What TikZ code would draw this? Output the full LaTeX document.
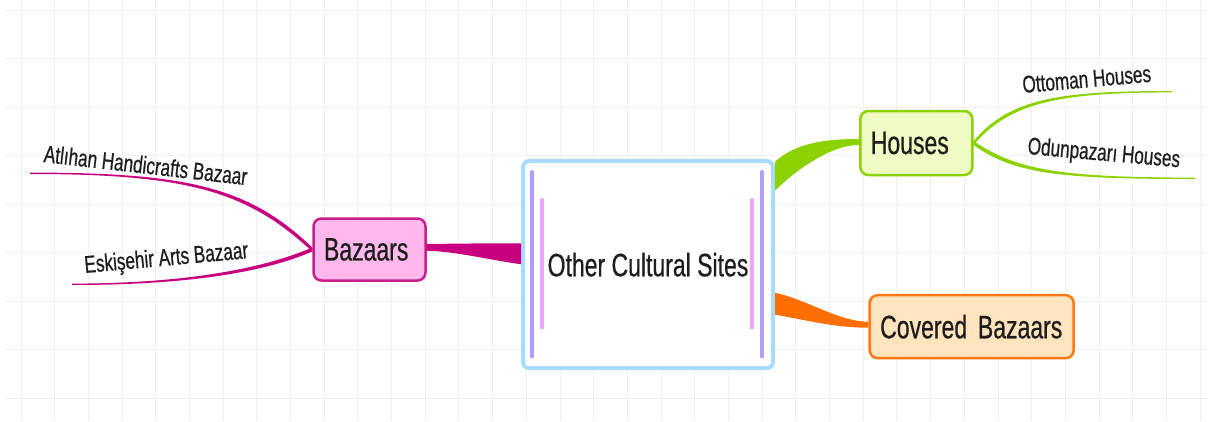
\documentclass[tikz,border=0pt]{standalone}
\usepackage{fontspec}
\setmainfont{Liberation Sans}
\newfontfamily\mapfont[FakeStretch=0.71,FakeBold=0.6]{Liberation Sans}
\usepackage{tikz}
\usetikzlibrary{shapes}
\usetikzlibrary{calc}
\definecolor{gridgray}{HTML}{F0F0F0}
\definecolor{textgray}{HTML}{1E1E1E}
\definecolor{centreblue}{HTML}{A8DCFF}
\definecolor{barpurple}{HTML}{B49CFF}
\definecolor{barpink}{HTML}{F0A4F8}
\definecolor{bazline}{HTML}{C8007F}
\definecolor{bazborder}{HTML}{C81E8C}
\definecolor{bazfill}{HTML}{FFB8EC}
\definecolor{houseline}{HTML}{8CD200}
\definecolor{housefill}{HTML}{F0FCC4}
\definecolor{covline}{HTML}{FF6E00}
\definecolor{covborder}{HTML}{FF7814}
\definecolor{covfill}{HTML}{FFE4BE}
\tikzstyle{gridline}=[draw=gridgray,line width=1pt]
\tikzstyle{centre}=[rectangle,draw=centreblue,line width=4pt,fill=white,
        rounded corners=6pt,minimum width=250pt,minimum height=207pt,
        text=textgray,font=\mapfont\fontsize{32.4}{38}\selectfont]
\tikzstyle{topic}=[rectangle,draw,line width=2.5pt,rounded corners=8pt,
        inner xsep=10.5pt,inner ysep=0pt,align=left,
        text=textgray,font=\mapfont\fontsize{32.4}{38}\selectfont]
\tikzstyle{leaf}=[anchor=base west,inner sep=0pt,text=textgray,
        font=\mapfont\fontsize{24.2}{29}\selectfont]
\tikzstyle{bar}=[line width=3.4pt,line cap=round]

\begin{document}
\begin{tikzpicture}[x=1pt,y=-1pt]
\fill[white] (0,0) rectangle (1208,421);
\useasboundingbox (0,0) rectangle (1208,421);
%Grid
\foreach \i in {0,...,35} \draw[gridline] ({21+33.69*\i},0) -- ({21+33.69*\i},421);
\foreach \j in {0,...,8} \draw[gridline] (6,{10+48.5*\j}) -- (1208,{10+48.5*\j});
%Nodes
\node[centre] (centre) at (648,264.7) {Other Cultural Sites};
\node[topic,draw=bazborder,fill=bazfill,text width=91pt,minimum height=62pt] (bazaars) at (369.5,249.5) {Bazaars};
\node[topic,draw=houseline,fill=housefill,text width=91pt,minimum height=64pt] (houses) at (916.3,143) {Houses};
\node[topic,draw=covborder,fill=covfill,text width=183pt,minimum height=63pt] (covered) at (971.7,326.7) {Covered Bazaars};
\node[leaf,rotate=-6.5] (atlihan) at (43,162) {Atlıhan Handicrafts Bazaar};
\node[leaf,rotate=5.2] (eskisehir) at (85,273) {Eskişehir Arts Bazaar};
\node[leaf,rotate=5] (ottoman) at (1023,93) {Ottoman Houses};
\node[leaf,rotate=-5] (odunpazari) at (1027,154) {Odunpazarı Houses};
\coordinate (atlend) at (30,173.3);
\coordinate (eskend) at (72,284.3);
\coordinate (ottend) at (1172,91.7);
\coordinate (odunend) at (1195,178.3);
%Bars inside the central topic
\draw[bar,barpurple] ($(centre.center)+(-116,-93)$) -- ($(centre.center)+(-116,92)$);
\draw[bar,barpink] ($(centre.center)+(-106,-65)$) -- ($(centre.center)+(-106,63)$);
\draw[bar,barpurple] ($(centre.center)+(114,-93)$) -- ($(centre.center)+(114,92)$);
\draw[bar,barpink] ($(centre.center)+(104,-65)$) -- ($(centre.center)+(104,63)$);
%Drawing Edges
\fill[bazline] ($(bazaars.east)+(0,-5.5)$) .. controls +(40,-0.5) and +(-40,0) .. ($(centre.west)+(0,-21.4)$)
        -- ($(centre.west)+(0,-0.4)$) .. controls +(-40,-6) and +(30,1) .. ($(bazaars.east)+(0,1.2)$) -- cycle;
\fill[houseline] ($(centre.east)+(0,-103)$) .. controls +(22,-20) and +(-30,0) .. ($(houses.west)+(0,-4)$)
        -- ($(houses.west)+(0,2)$) .. controls +(-30,0) and +(18,-18) .. ($(centre.east)+(0,-74)$) -- cycle;
\fill[covline] ($(centre.east)+(0,28)$) .. controls +(35,8) and +(-30,0) .. ($(covered.west)+(0,-5)$)
        -- ($(covered.west)+(0,1)$) .. controls +(-35,0) and +(30,5) .. ($(centre.east)+(0,50)$) -- cycle;
\fill[bazline] ($(bazaars.west)+(0,-2)$) .. controls (250,188) and (190,172.5) .. ($(atlend)+(0,-0.7)$)
        -- ($(atlend)+(0,0.7)$) .. controls (190,174) and (248,192) .. ($(bazaars.west)+(0,2)$) -- cycle;
\fill[bazline] ($(bazaars.west)+(0,-2)$) .. controls (260,270) and (180,283.5) .. ($(eskend)+(0,-0.7)$)
        -- ($(eskend)+(0,0.7)$) .. controls (180,285) and (260,274) .. ($(bazaars.west)+(0,2)$) -- cycle;
\fill[houseline] ($(houses.east)+(0,-2)$) .. controls (1010,98) and (1060,91) .. ($(ottend)+(0,-0.7)$)
        -- ($(ottend)+(0,0.7)$) .. controls (1060,92.5) and (1010,102) .. ($(houses.east)+(0,2)$) -- cycle;
\fill[houseline] ($(houses.east)+(0,-2)$) .. controls (1016,170) and (1060,177.5) .. ($(odunend)+(0,-0.7)$)
        -- ($(odunend)+(0,0.7)$) .. controls (1060,179) and (1014,174) .. ($(houses.east)+(0,2)$) -- cycle;
\end{tikzpicture}
\end{document}
